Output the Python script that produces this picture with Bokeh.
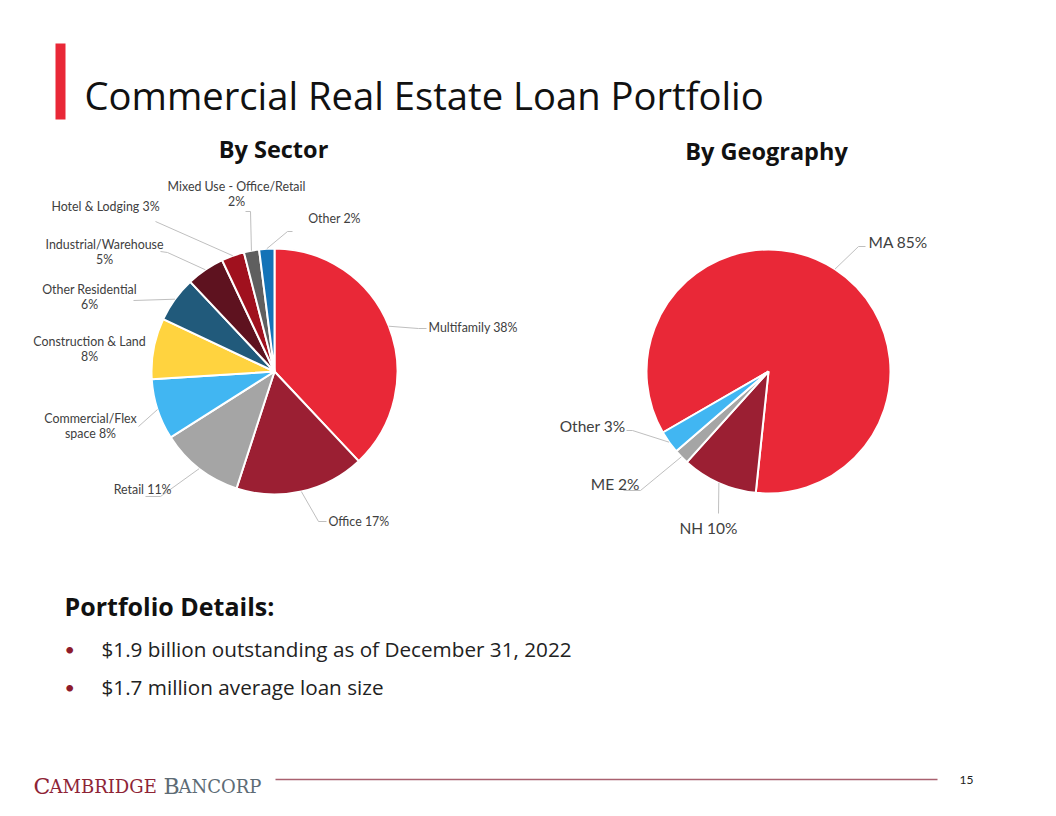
import numpy as np
from bokeh.plotting import figure
from bokeh.models import Range1d, ColumnDataSource
from bokeh.core.properties import value
from bokeh.embed import file_html
from bokeh.resources import INLINE

# ---------------- data ----------------
sector_names = ["Multifamily", "Office", "Retail", "Commercial/Flex space",
                "Construction & Land", "Other Residential", "Industrial/Warehouse",
                "Hotel & Lodging", "Mixed Use - Office/Retail", "Other"]
sector_values = [38, 17, 11, 8, 8, 6, 5, 3, 2, 2]
sector_colors = ["#E92837", "#9B1F33", "#A5A5A5", "#41B6F2", "#FFD33F",
                 "#215A7B", "#5E121F", "#A0111E", "#5F5F5F", "#1473B7"]

geo_names = ["MA", "NH", "ME", "Other"]
geo_values = [85, 10, 2, 3]
geo_colors = ["#E92837", "#9B1F33", "#A5A5A5", "#41B6F2"]

title_text = "Commercial Real Estate Loan Portfolio"
sector_title = "By Sector"
geo_title = "By Geography"
details_heading = "Portfolio Details:"
bullets = ["$1.9 billion outstanding as of December 31, 2022",
           "$1.7 million average loan size"]
page_number = "15"

# ---------------- layout ----------------
W, H = 1056, 816
FONT = "Lato"
HFONT = "Open Sans"
LABEL_COLOR = "#404040"
LEADER_COLOR = "#BFBFBF"


def Y(py):
    return H - py


p = figure(width=W, height=H, x_range=Range1d(0, W), y_range=Range1d(0, H),
           output_backend="svg", toolbar_location=None, min_border=0,
           x_axis_location=None, y_axis_location=None)
p.grid.visible = False
p.outline_line_color = None
p.background_fill_color = "white"
p.border_fill_color = "white"


def draw_pie(values, colors, cx, cy, r, start_cw_deg):
    vals = np.array(values, float)
    frac = vals / vals.sum()
    cum = np.concatenate([[0.0], np.cumsum(frac)]) * 360.0 + start_cw_deg
    a0, a1 = cum[:-1], cum[1:]
    src = ColumnDataSource(dict(start=np.radians(90 - a1), end=np.radians(90 - a0),
                                color=list(colors)))
    p.wedge(x=cx, y=Y(cy), radius=r, start_angle="start", end_angle="end",
            fill_color="color", line_color="white", line_width=2, source=src)
    mid = np.radians((a0 + a1) / 2)
    return cx + r * np.sin(mid), cy - r * np.cos(mid)


def label_lines(name, v, brk):
    if brk is None:
        return [f"{name} {v}%"]
    words = name.split(" ")
    first = " ".join(words[:brk])
    rest = " ".join(words[brk:] + [f"{v}%"])
    return [first, rest]


def draw_labels(names, values, anchors, layout, size, gap):
    ax, ay = anchors
    xs_l, ys_l = [], []
    tx, ty, tt, ta = [], [], [], []
    for i, (name, v) in enumerate(zip(names, values)):
        lay = layout[i]
        lines = label_lines(name, v, lay.get("brk"))
        for k, line in enumerate(lines):
            tx.append(lay["x"])
            ty.append(Y(lay["y"] + k * gap))
            tt.append(line)
            ta.append(lay["align"])
        if lay.get("elbow"):
            pts = [(ax[i], ay[i])] + lay["elbow"]
            xs_l.append([q[0] for q in pts])
            ys_l.append([Y(q[1]) for q in pts])
    p.multi_line(xs=xs_l, ys=ys_l, line_color=LEADER_COLOR, line_width=1)
    src = ColumnDataSource(dict(x=tx, y=ty, text=tt, align=ta))
    p.text(x="x", y="y", text="text", text_align="align", text_baseline="middle",
           text_font=value(FONT), text_font_size=size, text_color=LABEL_COLOR, source=src)


# --- sector pie ---
s_anchor = draw_pie(sector_values, sector_colors, 274, 371, 123, 0)
sector_layout = [
    dict(x=428, y=327, align="left", elbow=[(418, 328), (426, 328)]),
    dict(x=328, y=521, align="left", elbow=[(318, 521), (326, 521)]),
    dict(x=171, y=489, align="right", elbow=[(160, 496), (145, 496)]),
    dict(x=90, y=418, align="center", brk=1, elbow=[(138, 426)]),
    dict(x=89, y=341, align="center", brk=3),
    dict(x=89, y=289, align="center", brk=2, elbow=[(133, 300)]),
    dict(x=104, y=244, align="center", brk=1, elbow=[(167, 252), (160, 251)]),
    dict(x=105, y=206, align="center", elbow=[(155, 221)]),
    dict(x=236, y=186, align="center", brk=4, elbow=[(250, 211), (245, 211)]),
    dict(x=334, y=218, align="center", elbow=[(287, 231), (292, 231)]),
]
draw_labels(sector_names, sector_values, s_anchor, sector_layout, "12.4px", 14.5)

# --- geography pie ---
g_anchor = draw_pie(geo_values, geo_colors, 768, 371, 122, 240)
geo_layout = [
    dict(x=868, y=241, align="left", elbow=[(858, 246), (865, 246)]),
    dict(x=708, y=527, align="center", elbow=[(718, 513)]),
    dict(x=639, y=483, align="right", elbow=[(640, 490), (623, 490)]),
    dict(x=625, y=425, align="right", elbow=[(632, 430), (626, 430)]),
]
draw_labels(geo_names, geo_values, g_anchor, geo_layout, "15.5px", 18)

# --- titles ---
p.quad(left=55, right=65, bottom=Y(119), top=Y(43), fill_color="#E92837", line_color=None)
p.text(x=[84], y=[Y(94)], text=[title_text], text_font=value(HFONT), text_font_size="38.2px",
       text_color="#111111", text_baseline="alphabetic")
p.text(x=[273, 766], y=[Y(148), Y(150)], text=[sector_title, geo_title],
       text_font=value(HFONT), text_font_style="bold", text_font_size="23.5px",
       text_color="#111111", text_align="center", text_baseline="middle")

# --- details ---
p.text(x=[64], y=[Y(605)], text=[details_heading], text_font=value(HFONT),
       text_font_style="bold", text_font_size="25px", text_color="#111111",
       text_baseline="middle")
by = [648 + 38 * i for i in range(len(bullets))]
p.text(x=[64] * len(bullets), y=[Y(v) for v in by], text=["\u2022"] * len(bullets),
       text_font=value(FONT), text_font_size="18px", text_color="#8E1B2C",
       text_baseline="middle")
p.text(x=[101] * len(bullets), y=[Y(v) for v in by], text=bullets,
       text_font=value(HFONT), text_font_size="20.7px", text_color="#222222",
       text_baseline="middle")

# --- footer ---
SERIF = "DejaVu Serif"
p.text(x=[33, 163], y=[Y(786)] * 2, text=["C", "B"], text_font=value(SERIF),
       text_font_size="22px", text_color=["#8E2436", "#5D6B75"], text_baseline="alphabetic")
p.text(x=[49, 178], y=[Y(786)] * 2, text=["AMBRIDGE", "ANCORP"], text_font=value(SERIF),
       text_font_size="18px", text_color=["#8E2436", "#5D6B75"], text_baseline="alphabetic")
p.segment(x0=275, y0=Y(779), x1=937, y1=Y(779), line_color="#A9616F", line_width=1.5)
p.text(x=[966], y=[Y(779)], text=[page_number], text_font=value(FONT),
       text_font_size="12px", text_color="#222222", text_align="center",
       text_baseline="middle")

open("out.html", "w").write(file_html(p, INLINE))
